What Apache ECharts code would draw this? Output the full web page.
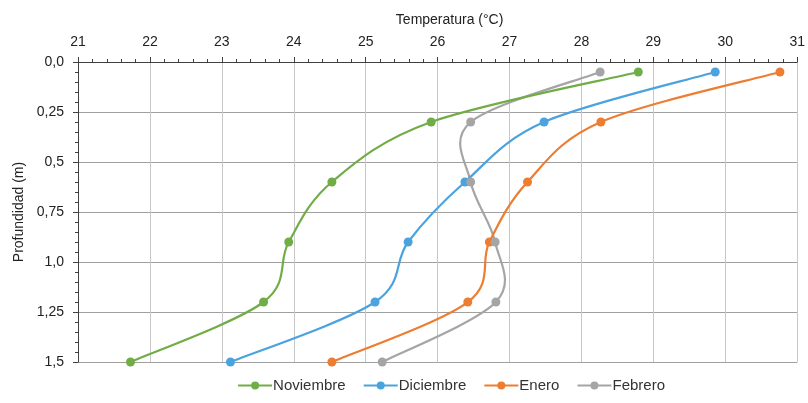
<!DOCTYPE html>
<html>
<head>
<meta charset="utf-8">
<script src="https://cdn.jsdelivr.net/npm/echarts@6/dist/echarts.min.js"></script>
<style>html,body{margin:0;padding:0;background:#fff}#c{width:808px;height:403px}</style>
</head>
<body>
<div id="c"></div>
<script>
const depths = [0.05, 0.3, 0.6, 0.9, 1.2, 1.5];
const noviembre = [28.79, 25.91, 24.53, 23.93, 23.58, 21.73];
const diciembre = [29.86, 27.48, 26.38, 25.59, 25.13, 23.12];
const enero = [30.76, 28.27, 27.25, 26.72, 26.42, 24.53];
const febrero = [28.26, 26.46, 26.46, 26.80, 26.81, 25.23];
const seriesNames = ['Noviembre', 'Diciembre', 'Enero', 'Febrero'];
const seriesColors = ['#70ad47', '#4aa3df', '#ed7d31', '#a5a5a5'];
const depthLabels = {0: '0,0', 0.25: '0,25', 0.5: '0,5', 0.75: '0,75', 1: '1,0', 1.25: '1,25', 1.5: '1,5'};

const allData = [noviembre, diciembre, enero, febrero];
const font = 'Liberation Sans, Arial, sans-serif';

// Smooth path (Excel-like Bezier, 1/6 neighbour tangents) through points mapped by the chart's own scales
function smoothRender(values) {
  return function (params, api) {
    if (params.dataIndex !== 0) return null;
    const pts = values.map((t, j) => api.coord([t, depths[j]]));
    let d = 'M' + pts[0][0] + ' ' + pts[0][1];
    for (let k = 0; k < pts.length - 1; k++) {
      const p0 = pts[Math.max(k - 1, 0)], p1 = pts[k], p2 = pts[k + 1], p3 = pts[Math.min(k + 2, pts.length - 1)];
      const c1 = [p1[0] + (p2[0] - p0[0]) / 6, p1[1] + (p2[1] - p0[1]) / 6];
      const c2 = [p2[0] - (p3[0] - p1[0]) / 6, p2[1] - (p3[1] - p1[1]) / 6];
      d += ' C' + c1[0] + ' ' + c1[1] + ' ' + c2[0] + ' ' + c2[1] + ' ' + p2[0] + ' ' + p2[1];
    }
    return {type: 'path', shape: {pathData: d}, style: {fill: null, stroke: api.visual('color'), lineWidth: 2.2}};
  };
}

const series = [];
seriesNames.forEach((n, i) => {
  series.push({
    name: n, type: 'line', smooth: false,
    data: allData[i].map((t, j) => [t, depths[j]]),
    symbol: 'circle', symbolSize: 9,
    lineStyle: {width: 0, opacity: 0, color: seriesColors[i]},
    itemStyle: {color: seriesColors[i]},
    z: 5
  });
});
seriesNames.forEach((n, i) => {
  series.push({
    name: n, type: 'custom',
    data: allData[i].map((t, j) => [t, depths[j]]),
    itemStyle: {color: seriesColors[i]},
    renderItem: smoothRender(allData[i]),
    z: 3 + (4 - i) * 0.1
  });
});

const chart = echarts.init(document.getElementById('c'));
chart.setOption({
  animation: false,
  textStyle: {fontFamily: font},
  grid: {left: 78, right: 10, top: 62, bottom: 41},
  legend: {
    bottom: 5, left: 232, itemWidth: 34, itemHeight: 10, itemGap: 17,
    lineStyle: {width: 2.2, opacity: 1},
    textStyle: {fontSize: 15, color: '#333', fontFamily: font, padding: [0, 0, 0, -4]},
    data: seriesNames
  },
  xAxis: {
    type: 'value', position: 'top', min: 21, max: 31, interval: 1,
    name: 'Temperatura (°C)', nameLocation: 'middle', nameGap: 35,
    nameTextStyle: {fontSize: 14, color: '#222', fontFamily: font, padding: [0, 0, 0, 24]},
    axisLine: {show: true, lineStyle: {color: '#404040', width: 1}},
    axisTick: {show: true, length: 5, lineStyle: {color: '#404040'}},
    minorTick: {show: true, splitNumber: 5, length: 3, lineStyle: {color: '#404040'}},
    axisLabel: {fontSize: 14, color: '#222', margin: 13},
    splitLine: {show: true, lineStyle: {color: '#c8c8c8', width: 1}}
  },
  yAxis: {
    type: 'value', inverse: true, min: 0, max: 1.5, interval: 0.25,
    name: 'Profundidad (m)', nameLocation: 'middle', nameGap: 52, nameRotate: 90,
    nameTextStyle: {fontSize: 14, color: '#222', fontFamily: font},
    axisLine: {show: true, onZero: false, lineStyle: {color: '#404040', width: 1}},
    axisTick: {show: true, length: 5, lineStyle: {color: '#404040'}},
    minorTick: {show: true, splitNumber: 5, length: 3, lineStyle: {color: '#404040'}},
    axisLabel: {fontSize: 14, color: '#222', margin: 14, formatter: v => depthLabels[v] !== undefined ? depthLabels[v] : ''},
    splitLine: {show: true, lineStyle: {color: '#a0a0a0', width: 1}}
  },
  series: series
});
</script>
</body>
</html>
